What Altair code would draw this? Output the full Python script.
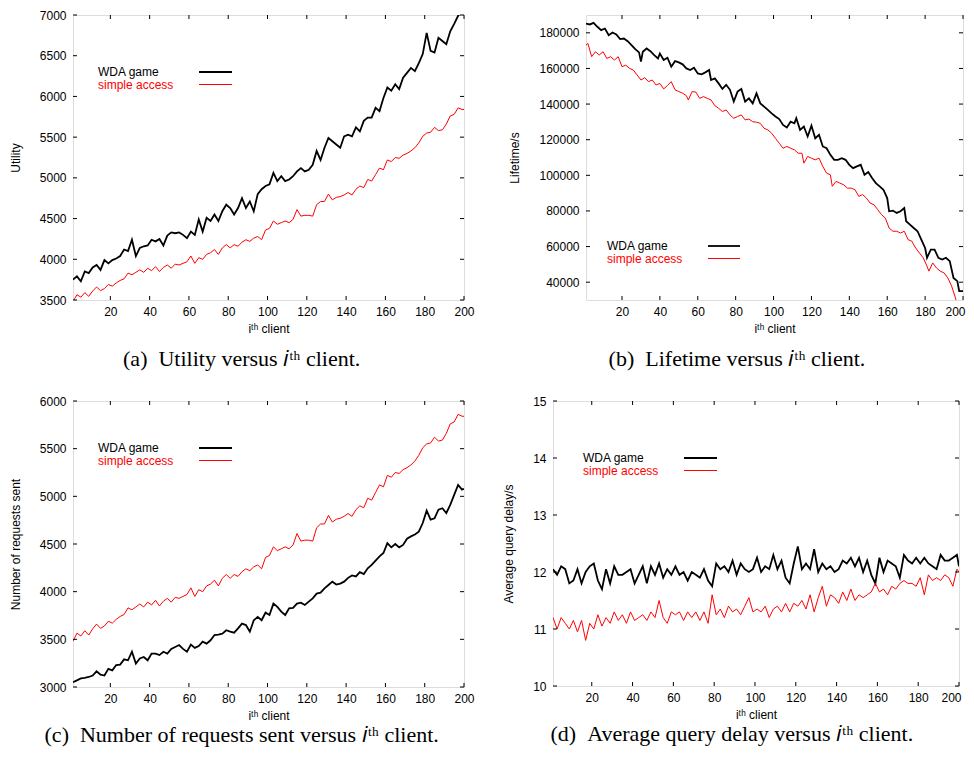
import altair as alt
import pandas as pd

# ---------------- data ----------------
X_ODD = list(range(1, 200, 2)) + [200]

util_wda = [3750, 3790, 3730, 3850, 3830, 3900, 3930, 3870, 3990, 3950,
            3990, 4010, 4040, 4120, 4100, 4240, 4040, 4140, 4160, 4170,
            4240, 4220, 4250, 4170, 4290, 4330, 4320, 4330, 4300, 4260,
            4340, 4300, 4490, 4340, 4510, 4470, 4550, 4470, 4590, 4670,
            4630, 4550, 4630, 4750, 4630, 4710, 4590, 4800, 4860, 4900,
            4920, 5060, 4960, 5020, 4960, 4980, 5020, 5080, 5120, 5080,
            5100, 5160, 5330, 5220, 5370, 5490, 5450, 5410, 5370, 5510,
            5530, 5510, 5620, 5570, 5700, 5740, 5740, 5860, 5820, 5980,
            6110, 6070, 6150, 6090, 6230, 6290, 6350, 6310, 6410, 6520,
            6780, 6560, 6540, 6720, 6680, 6640, 6800, 6890, 6990, 7050, 7090]

util_simple = [3480, 3565, 3535, 3590, 3545, 3610, 3660, 3615, 3640, 3690,
               3670, 3710, 3740, 3760, 3830, 3810, 3840, 3870, 3840, 3890,
               3860, 3910, 3850, 3900, 3930, 3890, 3940, 3930, 3950, 3970,
               4040, 3950, 4020, 4000, 4060, 4080, 4120, 4060, 4140, 4180,
               4140, 4180, 4160, 4210, 4240, 4220, 4260, 4280, 4240, 4360,
               4380, 4470, 4430, 4450, 4470, 4450, 4490, 4610, 4530, 4540,
               4540, 4530, 4670, 4710, 4710, 4800, 4730, 4760, 4770, 4790,
               4820, 4790, 4860, 4900, 4880, 4980, 4960, 5040, 5120, 5100,
               5220, 5200, 5250, 5240, 5280, 5300, 5330, 5370, 5430, 5510,
               5550, 5560, 5620, 5580, 5590, 5660, 5760, 5780, 5860, 5840, 5840]

req_wda = [3050, 3070, 3090, 3095, 3105, 3120, 3165, 3130, 3120, 3190,
           3175, 3230, 3235, 3290, 3280, 3370, 3245, 3300, 3315, 3280,
           3350, 3350, 3335, 3370, 3350, 3400, 3420, 3440, 3400, 3370,
           3445, 3410, 3430, 3475, 3455, 3490, 3545, 3550, 3560, 3595,
           3580, 3570, 3615, 3665, 3650, 3580, 3700, 3735, 3700, 3780,
           3755, 3875, 3840, 3790, 3755, 3825, 3830, 3875, 3885, 3860,
           3895, 3930, 3980, 3990, 4035, 4070, 4105, 4075, 4085, 4105,
           4145, 4170, 4160, 4205, 4185, 4245, 4280, 4325, 4370, 4405,
           4510, 4465, 4500, 4465, 4490, 4555, 4580, 4600, 4630, 4720,
           4850, 4755, 4770, 4860, 4875, 4825, 4910, 5015, 5120, 5070, 5080]

req_simple = [3480, 3565, 3535, 3590, 3545, 3610, 3660, 3615, 3640, 3690,
              3670, 3710, 3740, 3760, 3830, 3810, 3840, 3870, 3840, 3890,
              3860, 3910, 3850, 3900, 3930, 3890, 3940, 3930, 3950, 3970,
              4040, 3950, 4020, 4000, 4060, 4080, 4120, 4060, 4140, 4180,
              4140, 4180, 4160, 4210, 4240, 4220, 4260, 4280, 4240, 4360,
              4380, 4470, 4430, 4450, 4470, 4450, 4490, 4610, 4530, 4540,
              4540, 4530, 4670, 4710, 4710, 4800, 4730, 4760, 4770, 4790,
              4820, 4790, 4860, 4900, 4880, 4980, 4960, 5040, 5120, 5100,
              5220, 5200, 5250, 5240, 5280, 5300, 5330, 5370, 5430, 5510,
              5550, 5560, 5620, 5580, 5590, 5660, 5760, 5780, 5860, 5840, 5840]

life_wda_x = [1, 3, 5, 7, 9, 11, 13, 15, 17, 19, 21, 23, 25, 27, 29, 30, 31, 33,
              35, 37, 39, 40, 42, 44, 46, 48, 50, 52, 54, 56, 58, 60, 62, 64,
              66, 67, 69, 71, 73, 75, 77, 79, 81, 83, 85, 87, 89, 91, 93, 95,
              97, 99, 101, 103, 105, 107, 109, 111, 112, 114, 116, 118, 120,
              122, 124, 126, 128, 130, 132, 134, 136, 138, 140, 142, 144, 146,
              148, 150, 152, 154, 156, 158, 160, 161, 163, 165, 167, 169, 170,
              172, 174, 176, 178, 180, 181, 183, 185, 187, 189, 191, 193, 195,
              197, 198, 200]
life_wda = [185200, 184700, 185600, 183400, 181500, 182400, 178700, 180200,
            179100, 176500, 176800, 175300, 173100, 170800, 169000, 163800,
            169400, 171200, 169700, 167500, 165600, 168400, 164700, 166000,
            161000, 164100, 163400, 162300, 160000, 159100, 160400, 157200,
            156700, 157800, 159100, 153500, 154400, 151600, 148500, 150800,
            148000, 141400, 147000, 148500, 141400, 143200, 140400, 146000,
            140400, 138600, 136700, 134800, 133000, 131600, 128300, 126800,
            130100, 129200, 132000, 125500, 127400, 121800, 127900, 120800,
            122700, 116200, 115200, 111500, 108700, 108700, 109600, 108700,
            105900, 104000, 105000, 105900, 100300, 101800, 98500, 95600,
            93800, 91900, 87200, 79800, 80200, 78900, 79800, 81600, 74200,
            72300, 70400, 68600, 63900, 59200, 53700, 58300, 58300, 53700,
            52700, 53700, 51800, 42400, 40600, 35000, 35000]

life_simple_x = [1, 2, 4, 6, 8, 10, 12, 14, 16, 18, 20, 22, 24, 26, 28, 30, 32,
                 34, 36, 38, 40, 42, 44, 46, 48, 50, 52, 54, 55, 57, 59, 61, 63,
                 65, 67, 69, 71, 73, 75, 77, 79, 81, 83, 85, 87, 89, 91, 93, 95,
                 97, 99, 101, 103, 105, 107, 109, 111, 113, 115, 116, 118, 120,
                 122, 124, 126, 128, 130, 131, 133, 135, 137, 139, 141, 143, 145,
                 147, 149, 151, 153, 155, 157, 159, 161, 163, 165, 167, 169, 171,
                 173, 175, 177, 179, 181, 182, 184, 186, 188, 190, 192, 194, 196,
                 197, 200]
life_simple = [173100, 174000, 166600, 169400, 167500, 169400, 165600, 166600,
               164700, 166600, 161000, 161800, 160000, 159100, 156300, 153500,
               154800, 152600, 153500, 150700, 151600, 148500, 150400, 152600,
               148000, 147000, 146100, 144700, 142300, 147000, 146700, 143200,
               144200, 143200, 142300, 139100, 137600, 135800, 136700, 133900,
               132000, 133000, 133900, 131100, 131600, 130100, 129800, 129200,
               126400, 125500, 123600, 120800, 118000, 115200, 116200, 115200,
               114300, 112400, 112400, 106800, 110600, 109600, 108700, 109600,
               105000, 101200, 100300, 93800, 96600, 95600, 94700, 92800, 92800,
               91900, 88200, 89200, 87200, 84400, 83500, 80700, 77900, 76000,
               70400, 68600, 68600, 67600, 68600, 63900, 63000, 59200, 56400,
               53700, 49000, 46200, 50800, 48000, 46200, 45200, 42400, 37800,
               31200, 27500, 20000]

delay_wda = [12.05, 11.95, 12.1, 12.05, 11.8, 11.85, 12.05, 11.8, 12.0, 12.1,
             12.15, 11.85, 11.7, 12.05, 11.8, 12.1, 11.95, 11.95, 12.0, 12.05,
             11.8, 11.95, 12.1, 11.8, 12.1, 11.95, 12.15, 11.9, 12.05, 11.95,
             12.1, 11.95, 12.0, 11.85, 12.0, 11.95, 11.9, 12.05, 11.85, 11.75,
             12.15, 12.05, 12.1, 12.0, 12.2, 11.95, 12.15, 12.05, 12.0, 12.05,
             12.25, 12.0, 12.1, 12.05, 12.3, 12.05, 12.2, 11.9, 11.8, 12.15,
             12.45, 12.05, 12.15, 12.05, 12.4, 12.0, 12.15, 12.05, 12.1, 12.0,
             12.05, 12.2, 12.15, 12.25, 12.1, 12.25, 12.0, 12.2, 11.95, 11.8,
             12.25, 12.0, 12.2, 12.15, 12.1, 11.9, 12.3, 12.2, 12.15, 12.25,
             12.15, 12.25, 12.15, 12.1, 12.05, 12.3, 12.2, 12.2, 12.25, 12.3, 12.1]

delay_simple = [11.2, 11.0, 11.2, 11.1, 11.0, 11.15, 10.95, 11.15, 10.8, 11.1,
                11.0, 11.25, 11.05, 11.2, 11.1, 11.3, 11.15, 11.25, 11.1, 11.3,
                11.15, 11.2, 11.25, 11.15, 11.3, 11.2, 11.5, 11.2, 11.1, 11.3,
                11.25, 11.3, 11.15, 11.3, 11.2, 11.3, 11.15, 11.3, 11.1, 11.6,
                11.25, 11.35, 11.2, 11.4, 11.3, 11.35, 11.25, 11.4, 11.55, 11.3,
                11.35, 11.3, 11.4, 11.2, 11.35, 11.4, 11.3, 11.45, 11.3, 11.45,
                11.4, 11.5, 11.35, 11.6, 11.3, 11.55, 11.75, 11.4, 11.6, 11.55,
                11.45, 11.65, 11.5, 11.7, 11.5, 11.6, 11.55, 11.6, 11.65, 11.8,
                11.65, 11.7, 11.6, 11.75, 11.7, 11.8, 11.85, 11.8, 11.8, 11.75,
                11.9, 11.6, 11.95, 11.85, 11.9, 11.85, 11.95, 11.9, 11.75, 12.05, 12.0]

X_TICKS = [20, 40, 60, 80, 100, 120, 140, 160, 180, 200]
UTIL_TICKS = [3500, 4000, 4500, 5000, 5500, 6000, 6500, 7000]
LIFE_TICKS = [40000, 60000, 80000, 100000, 120000, 140000, 160000, 180000]
REQ_TICKS = [3000, 3500, 4000, 4500, 5000, 5500, 6000]
DELAY_TICKS = [10, 11, 12, 13, 14, 15]

SERIES = ["WDA game", "simple access"]
COLORS = ["#000000", "#ff0000"]
X_TITLE = "i\u1d57\u02b0 client"
CAP_I = "\U0001d456\u1d57\u02b0"

SANS = "Liberation Sans"
SERIF = "Liberation Serif"
TICK = 4


def panel(xw, yw, xs_, ys_, ydom, yticks, ytitle, caption, w, h, leg, cap_offset,
          flush_right=False):
    df = pd.DataFrame({
        "x": list(xw) + list(xs_),
        "y": list(yw) + list(ys_),
        "series": [SERIES[0]] * len(xw) + [SERIES[1]] * len(xs_),
    })
    xsc = alt.Scale(domain=[1, 200], nice=False, zero=False)
    ysc = alt.Scale(domain=ydom, nice=False, zero=False)
    flush_kw = {"labelFlush": True, "labelFlushOffset": 2} if flush_right else {"labelFlush": False}
    xax = alt.Axis(values=X_TICKS, title=X_TITLE, ticks=False, domain=False, grid=False,
                   format="d", labelFont=SANS, labelFontSize=12, labelColor="black",
                   labelPadding=6, titleFont=SANS, titleFontSize=12,
                   titleFontWeight="normal", titleColor="black", titlePadding=6,
                   **flush_kw)
    yax = alt.Axis(values=yticks, title=ytitle, ticks=False, domain=False, grid=False,
                   format="d", labelFont=SANS, labelFontSize=12, labelColor="black",
                   labelPadding=7, titleFont=SANS, titleFontSize=12,
                   titleFontWeight="normal", titleColor="black", titlePadding=17,
                   labelFlush=False)
    X = alt.X("x:Q", scale=xsc, axis=xax)
    Y = alt.Y("y:Q", scale=ysc, axis=yax)

    lines = alt.Chart(df).mark_line(clip=True).encode(
        x=X, y=Y,
        color=alt.Color("series:N", scale=alt.Scale(domain=SERIES, range=COLORS), legend=None),
        strokeWidth=alt.StrokeWidth("series:N", scale=alt.Scale(domain=SERIES, range=[1.8, 1.0]),
                                    legend=None),
    )
    xt = pd.DataFrame({"x": X_TICKS})
    yt = pd.DataFrame({"y": yticks})
    tb = alt.Chart(xt).mark_rule(color="black", strokeWidth=1).encode(
        x=X, y=alt.value(h), y2=alt.value(h - TICK))
    tt = alt.Chart(xt).mark_rule(color="black", strokeWidth=1).encode(
        x=X, y=alt.value(0), y2=alt.value(TICK))
    tl = alt.Chart(yt).mark_rule(color="black", strokeWidth=1).encode(
        y=Y, x=alt.value(0), x2=alt.value(TICK))
    tr = alt.Chart(yt).mark_rule(color="black", strokeWidth=1).encode(
        y=Y, x=alt.value(w), x2=alt.value(w - TICK))

    lx, ly, l1, l2 = leg
    layers = [lines, tb, tt, tl, tr]
    for i, name in enumerate(SERIES):
        yy = ly + i * 12.5
        layers.append(alt.Chart(pd.DataFrame({"t": [name]})).mark_text(
            align="left", baseline="middle", font=SANS, fontSize=12, color=COLORS[i]
        ).encode(x=alt.value(lx), y=alt.value(yy), text="t:N"))
        layers.append(alt.Chart(pd.DataFrame({"t": [name]})).mark_rule(
            color=COLORS[i], strokeWidth=1.8 if i == 0 else 1.0
        ).encode(x=alt.value(l1), x2=alt.value(l2), y=alt.value(yy)))

    return alt.layer(*layers).properties(
        width=w, height=h,
        title=alt.TitleParams(text=caption, orient="bottom", anchor="middle", frame="bounds",
                              font=SERIF, fontSize=22, fontWeight="normal", color="black",
                              offset=cap_offset),
    )


pa = panel(X_ODD, util_wda, X_ODD, util_simple, [3500, 7000], UTIL_TICKS, "Utility",
           "(a)\u2002Utility versus " + CAP_I + " client.", 391, 285,
           (25, 57, 126, 159), 15)
pb = panel(life_wda_x, life_wda, life_simple_x, life_simple, [30000, 190000], LIFE_TICKS,
           "Lifetime/s", "(b)\u2002Lifetime versus " + CAP_I + " client.", 377, 285,
           (21, 231, 122, 154), 15, flush_right=True)
pc = panel(X_ODD, req_wda, X_ODD, req_simple, [3000, 6000], REQ_TICKS,
           "Number of requests sent",
           "(c)\u2002Number of requests sent versus " + CAP_I + " client.", 391, 286,
           (25, 47, 126, 159), 4)
pd_ = panel(X_ODD, delay_wda, X_ODD, delay_simple, [10, 15], DELAY_TICKS,
            "Average query delay/s",
            "(d)\u2002Average query delay versus " + CAP_I + " client.", 406, 285,
            (30, 57, 131, 164), 4, flush_right=True)

top = alt.hconcat(pa, pb, spacing=33)
bottom = alt.hconcat(pc, pd_, spacing=27)
chart = alt.vconcat(top, bottom, spacing=23).configure_view(
    stroke="black", strokeWidth=1
).configure(background="white").properties(
    padding={"left": 0, "top": 0, "right": 0, "bottom": 0}
)

chart.save("out.html", embed_options={"renderer": "svg", "actions": False})
